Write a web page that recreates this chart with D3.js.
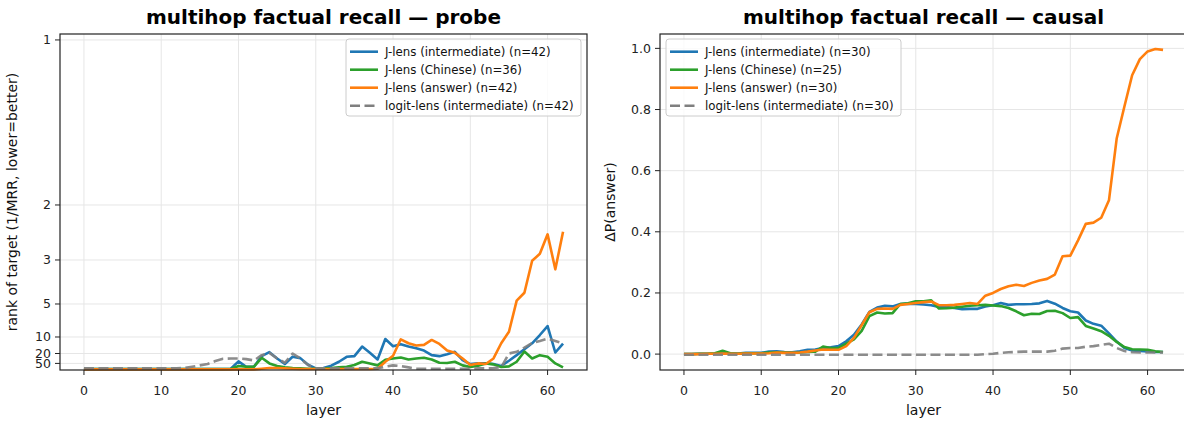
<!DOCTYPE html>
<html>
<head>
<meta charset="utf-8">
<script src="https://cdn.jsdelivr.net/npm/d3@7"></script>
<style>
  body { margin: 0; background: #fff; }
  svg { display: block; font-family: "DejaVu Sans", sans-serif; }
  .grid line { stroke: #e6e6e6; stroke-width: 1; }
  .tick-label { font-size: 12.5px; fill: #222; }
  .axis-label { font-size: 14px; fill: #111; }
  .title { font-size: 20px; font-weight: bold; fill: #000; }
  .legend-text { font-size: 11.8px; fill: #111; }
</style>
</head>
<body>
<svg width="1184" height="421"></svg>
<script>
// layer index 0..62
const layers = d3.range(0, 63);

// ---- probe panel (MRR of target; axis shows rank = 1/MRR) ----
const probeIntermediate = [
  0.003, 0.003, 0.003, 0.003, 0.003, 0.003, 0.003, 0.003, 0.003, 0.003,
  0.003, 0.003, 0.003, 0.003, 0.003, 0.003, 0.003, 0.003, 0.003, 0.004,
  0.026, 0.010, 0.010, 0.042, 0.054, 0.035, 0.018, 0.040, 0.036, 0.016,
  0.005, 0.006, 0.013, 0.025, 0.040, 0.042, 0.071, 0.052, 0.032, 0.094,
  0.072, 0.078, 0.071, 0.066, 0.059, 0.045, 0.042, 0.048, 0.055, 0.030,
  0.018, 0.020, 0.020, 0.018, 0.012, 0.028, 0.045, 0.063, 0.081, 0.106,
  0.133, 0.053, 0.080
];
const probeChinese = [
  0.003, 0.003, 0.003, 0.003, 0.003, 0.003, 0.003, 0.003, 0.003, 0.003,
  0.003, 0.003, 0.003, 0.003, 0.003, 0.003, 0.003, 0.003, 0.003, 0.003,
  0.012, 0.010, 0.010, 0.037, 0.020, 0.012, 0.008, 0.006, 0.005, 0.004,
  0.004, 0.005, 0.006, 0.008, 0.010, 0.015, 0.025, 0.020, 0.014, 0.031,
  0.035, 0.038, 0.032, 0.035, 0.037, 0.032, 0.022, 0.021, 0.025, 0.014,
  0.009, 0.013, 0.020, 0.017, 0.009, 0.011, 0.025, 0.056, 0.035, 0.045,
  0.040, 0.020, 0.008
];
const probeAnswer = [
  0.002, 0.002, 0.002, 0.002, 0.002, 0.002, 0.002, 0.002, 0.002, 0.002,
  0.002, 0.002, 0.002, 0.002, 0.002, 0.002, 0.002, 0.002, 0.002, 0.002,
  0.002, 0.002, 0.002, 0.004, 0.006, 0.006, 0.005, 0.004, 0.003, 0.003,
  0.003, 0.003, 0.003, 0.003, 0.003, 0.003, 0.003, 0.003, 0.004, 0.025,
  0.043, 0.093, 0.081, 0.074, 0.076, 0.091, 0.079, 0.059, 0.052, 0.035,
  0.015, 0.020, 0.018, 0.035, 0.081, 0.116, 0.210, 0.234, 0.331, 0.352,
  0.411, 0.305, 0.419
];
const probeLogit = [
  0.005, 0.005, 0.005, 0.005, 0.005, 0.005, 0.005, 0.005, 0.005, 0.005,
  0.005, 0.005, 0.005, 0.006, 0.010, 0.014, 0.018, 0.027, 0.034, 0.035,
  0.035, 0.033, 0.029, 0.045, 0.052, 0.035, 0.022, 0.050, 0.035, 0.015,
  0.005, 0.005, 0.005, 0.005, 0.005, 0.005, 0.005, 0.005, 0.005, 0.010,
  0.014, 0.012, 0.008, 0.004, 0.004, 0.004, 0.004, 0.004, 0.004, 0.004,
  0.004, 0.005, 0.005, 0.006, 0.008, 0.050, 0.055, 0.068, 0.082, 0.088,
  0.095, 0.088, 0.080
];
const probeRankTicks = [1, 2, 3, 5, 10, 20, 50];
const probeNames = [
  "J-lens (intermediate) (n=42)",
  "J-lens (Chinese) (n=36)",
  "J-lens (answer) (n=42)",
  "logit-lens (intermediate) (n=42)"
];

// ---- causal panel (delta P(answer)) ----
const causalIntermediate = [
  0.000, 0.000, 0.001, 0.001, 0.002, 0.004, 0.002, 0.002, 0.004, 0.004,
  0.004, 0.008, 0.009, 0.007, 0.006, 0.009, 0.014, 0.015, 0.020, 0.022,
  0.026, 0.042, 0.063, 0.097, 0.138, 0.152, 0.158, 0.156, 0.164, 0.165,
  0.164, 0.162, 0.160, 0.154, 0.154, 0.151, 0.147, 0.148, 0.148, 0.156,
  0.160, 0.167, 0.161, 0.163, 0.163, 0.164, 0.166, 0.174, 0.165, 0.151,
  0.140, 0.136, 0.110, 0.099, 0.093, 0.068, 0.041, 0.020, 0.012, 0.010,
  0.009, 0.007, 0.007
];
const causalChinese = [
  0.000, 0.000, 0.001, 0.001, 0.003, 0.011, 0.003, 0.001, 0.003, 0.003,
  0.003, 0.005, 0.006, 0.005, 0.004, 0.005, 0.007, 0.008, 0.025, 0.020,
  0.020, 0.034, 0.048, 0.076, 0.124, 0.136, 0.133, 0.134, 0.164, 0.166,
  0.173, 0.173, 0.176, 0.149, 0.150, 0.152, 0.155, 0.158, 0.160, 0.161,
  0.159, 0.157, 0.151, 0.140, 0.127, 0.132, 0.131, 0.141, 0.142, 0.134,
  0.118, 0.121, 0.092, 0.084, 0.075, 0.060, 0.040, 0.023, 0.016, 0.015,
  0.014, 0.009, 0.007
];
const causalAnswer = [
  0.000, 0.000, 0.000, 0.001, 0.001, 0.002, 0.001, 0.001, 0.002, 0.002,
  0.002, 0.003, 0.005, 0.004, 0.004, 0.005, 0.008, 0.012, 0.015, 0.014,
  0.014, 0.026, 0.053, 0.095, 0.137, 0.148, 0.149, 0.148, 0.161, 0.164,
  0.167, 0.170, 0.172, 0.160, 0.160, 0.161, 0.164, 0.167, 0.164, 0.191,
  0.200, 0.213, 0.222, 0.227, 0.223, 0.233, 0.241, 0.246, 0.260, 0.320,
  0.322, 0.372, 0.426, 0.430, 0.446, 0.503, 0.705, 0.810, 0.912, 0.965,
  0.990, 0.998, 0.995
];
const causalLogit = [
  -0.002, -0.002, -0.002, -0.002, -0.002, -0.002, -0.002, -0.002, -0.002, -0.002,
  -0.002, -0.002, -0.002, -0.002, -0.002, -0.002, -0.002, -0.002, -0.002, -0.002,
  -0.002, -0.002, -0.002, -0.002, -0.002, -0.002, -0.002, -0.002, -0.002, -0.002,
  -0.002, -0.002, -0.002, -0.002, -0.002, -0.002, -0.002, -0.002, -0.002, 0.000,
  0.001, 0.004, 0.006, 0.007, 0.008, 0.008, 0.008, 0.008, 0.011, 0.018,
  0.020, 0.020, 0.024, 0.026, 0.030, 0.034, 0.020, 0.010, 0.006, 0.005,
  0.005, 0.005, 0.005
];
const causalTicks = [0.0, 0.2, 0.4, 0.6, 0.8, 1.0];
const causalNames = [
  "J-lens (intermediate) (n=30)",
  "J-lens (Chinese) (n=25)",
  "J-lens (answer) (n=30)",
  "logit-lens (intermediate) (n=30)"
];

const layerTicks = [0, 10, 20, 30, 40, 50, 60];
const colors = ["#1f77b4", "#2ca02c", "#ff7f0e", "#7f7f7f"];

let svg = d3.select("svg");

function drawPanel(opts) {
  let x = d3.scaleLinear().domain([-3.1, 65.1]).range([opts.left, opts.left + 527]);
  let y = d3.scaleLinear().domain(opts.yDomain).range([370, 34]);
  let g = svg.append("g");

  // grid
  let grid = g.append("g").attr("class", "grid");
  grid.selectAll("line.gx").data(layerTicks).enter().append("line")
    .attr("x1", d => x(d)).attr("x2", d => x(d))
    .attr("y1", 34).attr("y2", 370);
  grid.selectAll("line.gy").data(opts.yTicks).enter().append("line")
    .attr("x1", x.range()[0]).attr("x2", x.range()[1])
    .attr("y1", d => y(d.v)).attr("y2", d => y(d.v));

  // series lines
  let line = d3.line().x((d, i) => x(layers[i])).y(d => y(d));
  opts.series.forEach((s, i) => {
    g.append("path")
      .datum(s)
      .attr("d", line)
      .attr("fill", "none")
      .attr("stroke", colors[i])
      .attr("stroke-width", 2.6)
      .attr("stroke-linejoin", "round")
      .attr("stroke-dasharray", i == 3 ? "10,4.5" : null)
      .attr("opacity", i == 3 ? 0.9 : 1);
  });

  // spines
  g.append("rect")
    .attr("x", x.range()[0]).attr("y", 34)
    .attr("width", 527).attr("height", 336)
    .attr("fill", "none").attr("stroke", "#222").attr("stroke-width", 1.2);

  // x ticks
  let xt = g.selectAll("g.xt").data(layerTicks).enter().append("g");
  xt.append("line")
    .attr("x1", d => x(d)).attr("x2", d => x(d))
    .attr("y1", 370).attr("y2", 375)
    .attr("stroke", "#222");
  xt.append("text")
    .attr("class", "tick-label")
    .attr("x", d => x(d)).attr("y", 395)
    .attr("text-anchor", "middle")
    .text(d => d);

  // y ticks
  let yt = g.selectAll("g.yt").data(opts.yTicks).enter().append("g");
  yt.append("line")
    .attr("x1", x.range()[0] - 5).attr("x2", x.range()[0])
    .attr("y1", d => y(d.v)).attr("y2", d => y(d.v))
    .attr("stroke", "#222");
  yt.append("text")
    .attr("class", "tick-label")
    .attr("x", x.range()[0] - 9).attr("y", d => y(d.v))
    .attr("dy", "0.36em")
    .attr("text-anchor", "end")
    .text(d => d.label);

  // labels + title
  g.append("text").attr("class", "axis-label")
    .attr("x", (x.range()[0] + x.range()[1]) / 2).attr("y", 415)
    .attr("text-anchor", "middle").text("layer");
  g.append("text").attr("class", "axis-label")
    .attr("transform", `translate(${opts.yLabelX},202) rotate(-90)`)
    .attr("text-anchor", "middle").text(opts.yLabel);
  g.append("text").attr("class", "title")
    .attr("x", (x.range()[0] + x.range()[1]) / 2).attr("y", 24)
    .attr("text-anchor", "middle").text(opts.title);

  // legend
  let lg = g.append("g").attr("transform", `translate(${opts.legendX},39)`);
  lg.append("rect")
    .attr("width", 235).attr("height", 77).attr("rx", 3)
    .attr("fill", "#fff").attr("fill-opacity", 0.8)
    .attr("stroke", "#ccc");
  opts.names.forEach((name, i) => {
    let ry = 12.7 + i * 18;
    lg.append("line")
      .attr("x1", 4).attr("x2", 32).attr("y1", ry).attr("y2", ry)
      .attr("stroke", colors[i]).attr("stroke-width", 2.6)
      .attr("stroke-dasharray", i == 3 ? "10,4.5" : null);
    lg.append("text").attr("class", "legend-text")
      .attr("x", 39).attr("y", ry).attr("dy", "0.35em")
      .text(name);
  });
}

drawPanel({
  left: 60,
  yDomain: [0, 1.018],
  yTicks: probeRankTicks.map(r => ({v: 1 / r, label: r})),
  series: [probeIntermediate, probeChinese, probeAnswer, probeLogit],
  names: probeNames,
  title: "multihop factual recall \u2014 probe",
  yLabel: "rank of target (1/MRR, lower=better)",
  yLabelX: 17,
  legendX: 346
});

drawPanel({
  left: 660,
  yDomain: [-0.052, 1.047],
  yTicks: causalTicks.map(v => ({v: v, label: v.toFixed(1)})),
  series: [causalIntermediate, causalChinese, causalAnswer, causalLogit],
  names: causalNames,
  title: "multihop factual recall \u2014 causal",
  yLabel: "\u0394P(answer)",
  yLabelX: 615,
  legendX: 666
});
</script>
</body>
</html>
